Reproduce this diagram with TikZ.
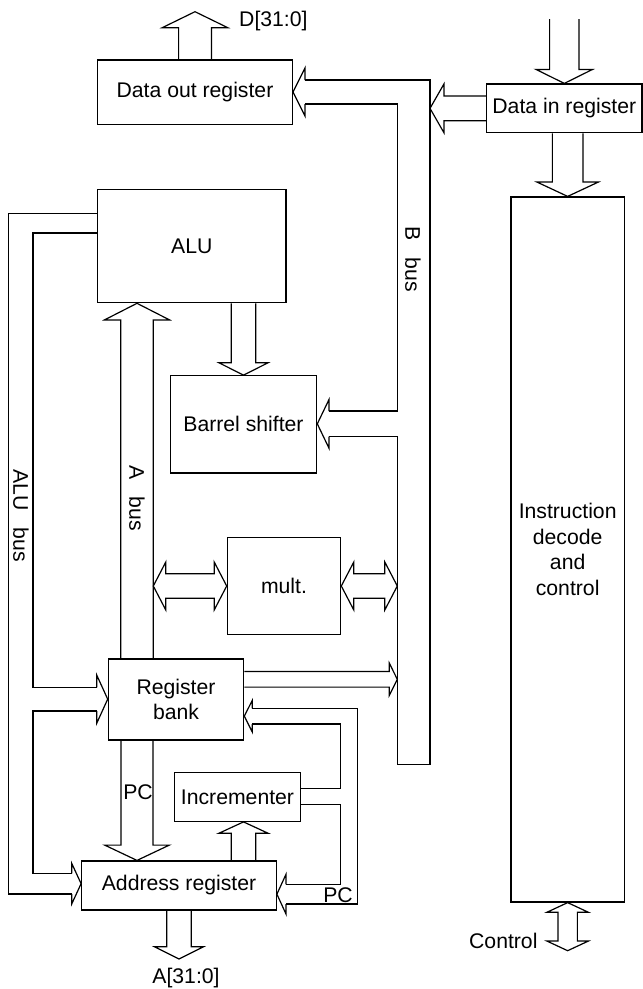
\documentclass[tikz,border=0pt]{standalone}
\usepackage{fontspec}
\setmainfont{Liberation Sans}
\usepackage{tikz}
\usetikzlibrary{calc,positioning}
\tikzset{
    myblock/.style={draw=black,line width=1.2pt,inner sep=0pt,align=center,font=\fontsize{21.2}{25.5}\selectfont},
    mybus/.style={line width=1.2pt,draw=black,line join=miter},
    mylabel/.style={inner sep=0pt,font=\fontsize{21.2}{25.5}\selectfont},
    mybuslabel/.style={mylabel,rotate=-90}
}
\newcommand{\busarrow}[5]{%
  \coordinate (fa-t) at (#1);
  \coordinate (fa-p) at (#2);
  \coordinate (fa-h) at ($(fa-p)!#5!(fa-t)$);
  \draw[mybus] ($(fa-t)!#3!90:(fa-p)$) -- ($(fa-h)!#3!90:(fa-p)$) -- ($(fa-h)!#4!90:(fa-p)$) -- (fa-p)
    -- ($(fa-h)!#4!-90:(fa-p)$) -- ($(fa-h)!#3!-90:(fa-p)$) -- ($(fa-t)!#3!-90:(fa-p)$);
}
\newcommand{\busdblarrow}[5]{%
  \coordinate (da-a) at (#1);
  \coordinate (da-b) at (#2);
  \coordinate (da-ha) at ($(da-a)!#5!(da-b)$);
  \coordinate (da-hb) at ($(da-b)!#5!(da-a)$);
  \draw[mybus] (da-a) -- ($(da-ha)!#4!90:(da-b)$) -- ($(da-ha)!#3!90:(da-b)$) -- ($(da-hb)!#3!-90:(da-a)$)
    -- ($(da-hb)!#4!-90:(da-a)$) -- (da-b) -- ($(da-hb)!#4!90:(da-a)$) -- ($(da-hb)!#3!90:(da-a)$)
    -- ($(da-ha)!#3!-90:(da-b)$) -- ($(da-ha)!#4!-90:(da-b)$) -- cycle;
}
\newcommand{\bushead}[4]{%
  \draw[mybus] (#1) -- ($(#1)!#4!180:(#2)$) -- (#3) -- ($(#2)!#4!180:(#1)$) -- (#2);
}

\begin{document}
\begin{tikzpicture}[x=1pt,y=-1pt]
  \useasboundingbox (0,0) rectangle (643,989);

  \coordinate (bL) at (397.3,0);
  \coordinate (bR) at (430,0);
  \coordinate (aluL) at (8.3,0);
  \coordinate (aluR) at (33,0);
  \coordinate (pcL) at (340.7,0);
  \coordinate (pcR) at (357.3,0);
  \coordinate (abus) at (137,0);
  \coordinate (aR) at (153.3,0);

  \node[myblock,minimum width=194.8pt,minimum height=64.7pt] (dout) at (195,92.35) {Data out register};
  \node[myblock,minimum width=155.4pt,minimum height=48.7pt] (din) at (564.3,108.35) {Data in register};
  \node[myblock,minimum width=188.3pt,minimum height=113.4pt] (alu) at (191.85,246) {ALU};
  \node[myblock,minimum width=146.4pt,minimum height=97.3pt] (shift) at (243.5,424.35) {Barrel shifter};
  \node[myblock,minimum width=113.4pt,minimum height=97.4pt] (mult) at (284,586) {mult.};
  \node[myblock,minimum width=135.4pt,minimum height=81pt] (regs) at (176,699.5) {Register\\bank};
  \node[myblock,minimum width=126.4pt,minimum height=48.6pt] (incr) at (237.5,797) {Incrementer};
  \node[myblock,minimum width=194.6pt,minimum height=49pt] (addr) at (179,885.5) {Address register};
  \node[myblock,minimum width=113.3pt,minimum height=705pt] (idc) at (567.65,549.5) {Instruction\\decode\\and\\control};

  \busarrow{dout.north}{195,11.7}{16.4pt}{32.8pt}{16pt}
  \busarrow{din.north |- 0,19}{din.north}{14.7pt}{28.3pt}{14pt}
  \busarrow{idc.north |- din.south}{idc.north}{15.3pt}{30.8pt}{14.4pt}
  \busarrow{din.west}{bR |- din.west}{12.35pt}{24.5pt}{14pt}
  \busarrow{abus |- regs.north}{abus |- alu.south}{16.3pt}{32.5pt}{16.6pt}
  \busarrow{shift.north |- alu.south}{shift.north}{12.2pt}{24.7pt}{12.4pt}
  \busdblarrow{aR |- mult.west}{mult.west}{12.2pt}{24pt}{12.5pt}
  \busdblarrow{mult.east}{bL |- mult.east}{12.2pt}{24pt}{12.5pt}
  \busarrow{regs.east |- 0,679.3}{bL |- 0,679.3}{7.8pt}{16.2pt}{8pt}
  \busarrow{abus |- regs.south}{abus |- addr.north}{16pt}{32.3pt}{15.3pt}
  \busarrow{shift.north |- addr.north}{shift.north |- incr.south}{12.2pt}{24.7pt}{11.4pt}
  \busarrow{addr.south}{179,959}{12.2pt}{24.5pt}{12.3pt}
  \busdblarrow{idc.south}{567.65,950.7}{9.7pt}{20.8pt}{9.7pt}

  \draw[mybus] (305,80) -- (bR |- 0,80) -- (bR |- 0,764.3) -- (bL |- 0,764.3) -- (bL |- 0,436.7) -- (329,436.7);
  \draw[mybus] (305,104) -- (bL |- 0,104) -- (bL |- 0,411) -- (329,411);
  \bushead{305,80}{305,104}{dout.east |- 0,92}{12pt}
  \bushead{329,411}{329,436.7}{shift.east |- 0,423.85}{11.5pt}

  \draw[mybus] (alu.west |- 0,213.7) -- (aluL |- 0,213.7) -- (aluL |- 0,894) -- (71.7,894);
  \draw[mybus] (alu.west |- 0,233) -- (aluR |- 0,233) -- (aluR |- 0,687.3) -- (96.7,687.3);
  \draw[mybus] (96.7,711) -- (aluR |- 0,711) -- (aluR |- 0,873.3) -- (71.7,873.3);
  \bushead{96.7,687.3}{96.7,711}{regs.west |- 0,699.15}{12.3pt}
  \bushead{71.7,873.3}{71.7,894}{addr.west |- 0,883.65}{10pt}

  \draw[mybus] (252.3,708.3) -- (pcR |- 0,708.3) -- (pcR |- 0,904) -- (286,904);
  \draw[mybus] (252.3,724) -- (pcL |- 0,724) -- (pcL |- 0,788.3) -- (incr.east |- 0,788.3);
  \draw[mybus] (incr.east |- 0,804.7) -- (pcL |- 0,804.7) -- (pcL |- 0,884.3) -- (286,884.3);
  \bushead{252.3,708.3}{252.3,724}{regs.east |- 0,716.15}{8pt}
  \bushead{286,884.3}{286,904}{addr.east |- 0,894.15}{10pt}

  \node[mylabel,anchor=west] (dlabel) at (239,21) {D[31:0]};
  \node[mylabel] (alabel) at (186,978) {A[31:0]};
  \node[mylabel,anchor=east] (clabel) at (537.7,941) {Control};
  \node[mylabel] (pcup) at (138,792) {PC};
  \node[mylabel] (pcright) at (338,895) {PC};
  \foreach \n/\x/\y/\t in {alubus/21/515.8/ALU, abusl/137/498/A, bbusl/413/259/B}{
    \node[mybuslabel] (\n) at (\x,\y) {\t\hspace{17pt}bus};
  }
\end{tikzpicture}
\end{document}
